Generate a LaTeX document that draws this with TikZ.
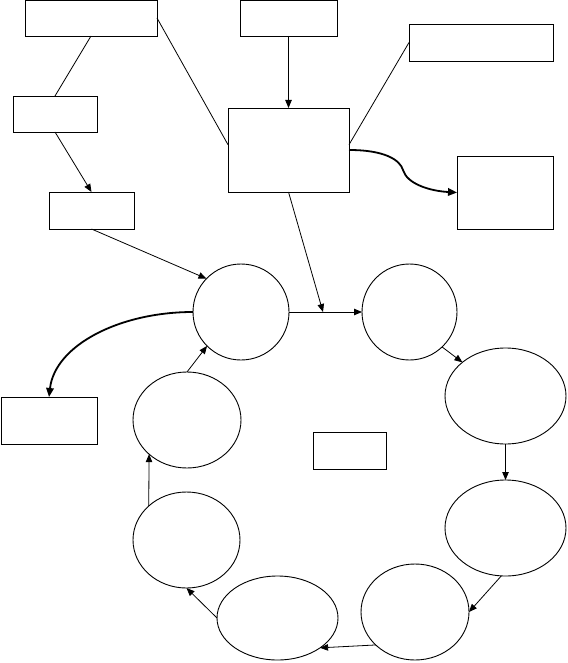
\documentclass[tikz,border=0pt]{standalone}
\usetikzlibrary{shapes.geometric,arrows.meta}
\begin{document}
\begin{tikzpicture}[x=1pt,y=-1pt,
  box/.style={draw,rectangle,inner sep=0,outer sep=0,line width=0.9pt},
  oval/.style={draw,ellipse,inner sep=0,outer sep=0,line width=0.9pt},
  conn/.style={line width=0.8pt},
  arr/.style={line width=0.8pt,-{Triangle[length=8pt,width=6.5pt]}},
  thickarr/.style={line width=1.8pt,-{Triangle[length=9pt,width=7.5pt]}}]
\useasboundingbox (0,0) rectangle (567,663);
% boxes
\node[box,minimum width=132pt,minimum height=36pt] (b1) at (91,18) {};
\node[box,minimum width=84pt,minimum height=36pt] (b2) at (55,114) {};
\node[box,minimum width=85pt,minimum height=37pt] (b3) at (91.5,210.5) {};
\node[box,minimum width=97pt,minimum height=36pt] (b4) at (288.5,18) {};
\node[box,minimum width=144pt,minimum height=37pt] (b5) at (481,42.5) {};
\node[box,minimum width=121pt,minimum height=84pt] (b6) at (288.5,150) {};
\node[box,minimum width=96pt,minimum height=73pt] (b7) at (505,192.5) {};
\node[box,minimum width=96pt,minimum height=47pt] (b8) at (49,420.5) {};
\node[box,minimum width=73pt,minimum height=37pt] (b9) at (349.5,450.5) {};
% ovals
\node[oval,minimum width=96pt,minimum height=96pt] (e1) at (241,312) {};
\node[oval,minimum width=95pt,minimum height=96pt] (e2) at (409.5,312) {};
\node[oval,minimum width=121pt,minimum height=96pt] (e3) at (505.5,396) {};
\node[oval,minimum width=121pt,minimum height=96pt] (e4) at (505.5,528) {};
\node[oval,minimum width=108pt,minimum height=96pt] (e5) at (415,612) {};
\node[oval,minimum width=121pt,minimum height=84pt] (e6) at (277.5,618) {};
\node[oval,minimum width=107pt,minimum height=96pt] (e7) at (186.5,540) {};
\node[oval,minimum width=108pt,minimum height=96pt] (e8) at (187,420) {};
\coordinate (j) at (323,312);
% connectors
\draw[conn] (b1.south) -- (b2.north);
\draw[conn] (b1.east) -- (b6.175);
\draw[arr] (b2.south) -- (b3.north);
\draw[arr] (b4.south) -- (b6.north);
\draw[conn] (b5.west) -- (b6.5);
\draw[thickarr] (b6.east) .. controls (385,150) and (400,160) .. (403,170)
  .. controls (407,184) and (430,191) .. (b7.west);
\draw[arr] (b6.south) -- (j);
\draw[arr] (b3.south) -- (e1.136);
\draw[arr] (e1.east) -- (e2.west);
\draw[thickarr] (e1.west) .. controls (120,312) and (55,345) .. (b8.north);
\draw[arr] (e2.-47) -- (e3.142);
\draw[arr] (e3.south) -- (e4.north);
\draw[arr] (e4.265) -- (e5.east);
\draw[arr] (e5.220) -- (e6.-35);
\draw[arr] (e6.west) -- (e7.south);
\draw[arr] (e7.138) -- (e8.222);
\draw[arr] (e8.north) -- (e1.225);
\end{tikzpicture}
\end{document}
